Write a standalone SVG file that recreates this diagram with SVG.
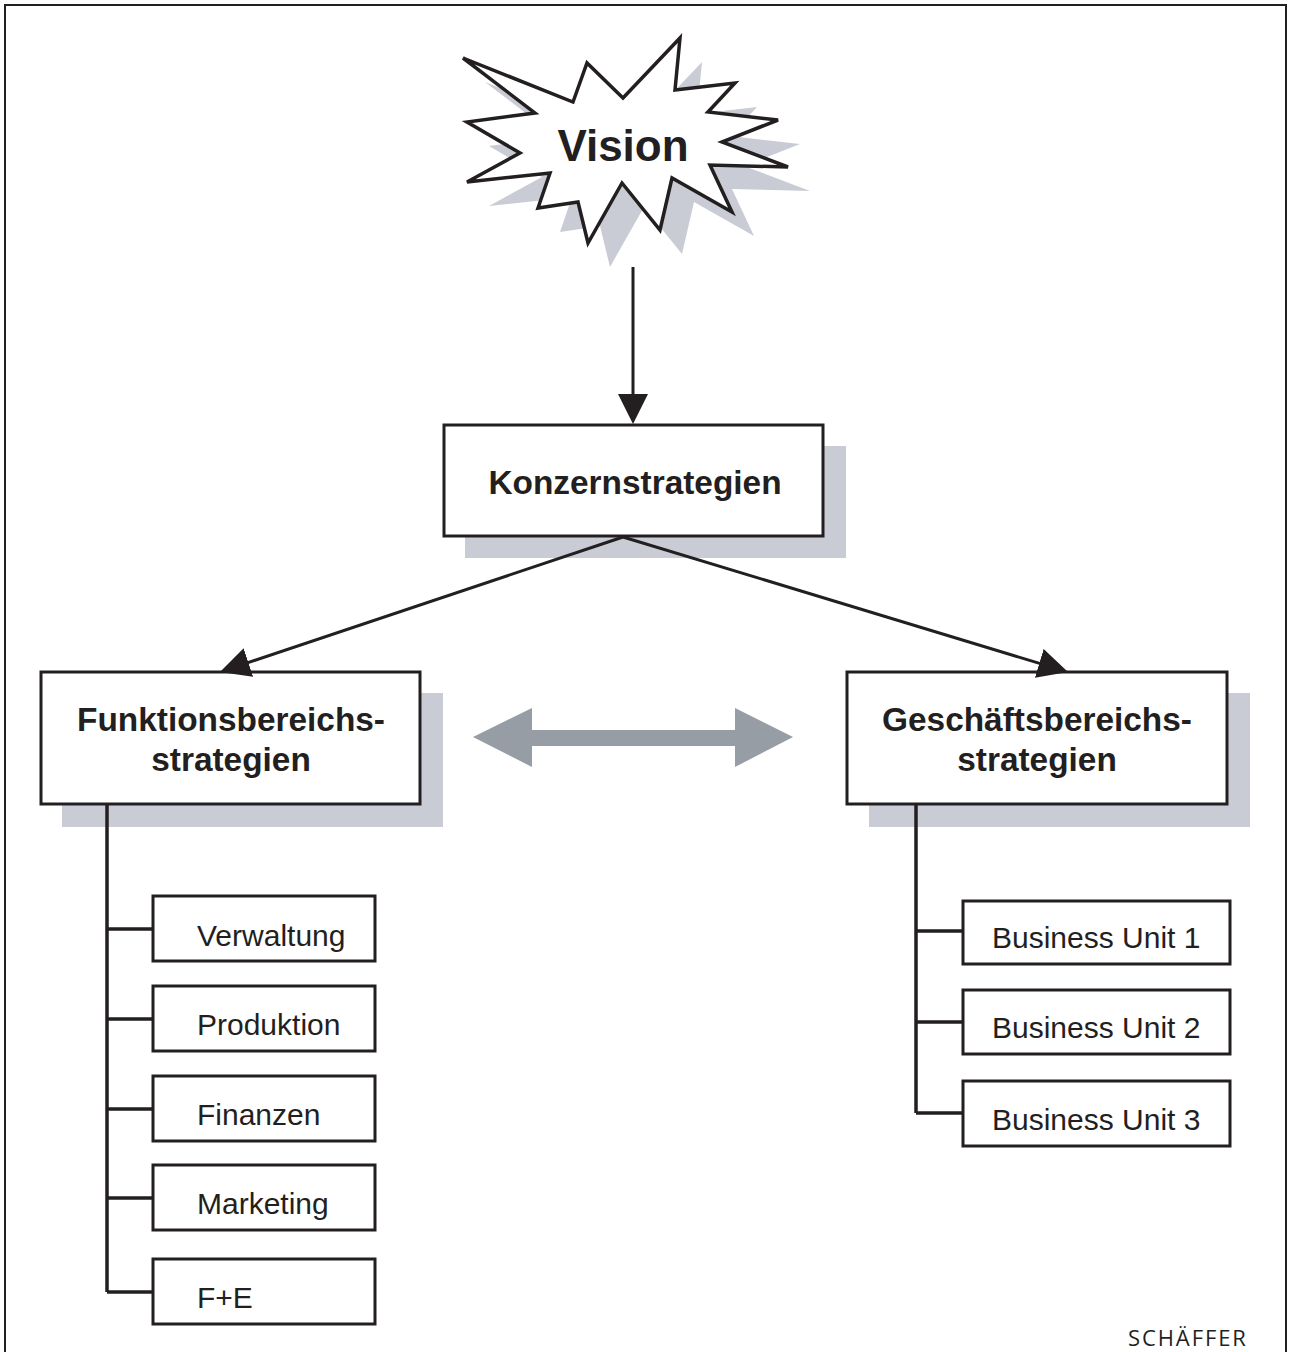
<svg xmlns="http://www.w3.org/2000/svg" width="1289" height="1352" viewBox="0 0 1289 1352">
  <style>
    .frame { fill: none; stroke: #231f20; stroke-width: 2; }
    .shadow { fill: #c9ccd4; stroke: none; }
    .box { fill: #ffffff; stroke: #231f20; stroke-width: 3; }
    .star { fill: #ffffff; stroke: #231f20; stroke-width: 3.5; stroke-linejoin: miter; }
    .link { fill: none; stroke: #231f20; stroke-width: 3; }
    .tree { fill: none; stroke: #231f20; stroke-width: 3.5; }
    .bold { font-family: "Liberation Sans", Arial, sans-serif; font-weight: bold; fill: #231f20; text-anchor: middle; }
    .plain { font-family: "Liberation Sans", Arial, sans-serif; font-size: 30px; fill: #231f20; }
    .publisher { font-family: "Open Sans", "Liberation Sans", sans-serif; font-size: 22px; letter-spacing: 1.9px; fill: #231f20; }
  </style>
  <defs>
    <marker id="head" markerUnits="userSpaceOnUse" markerWidth="32" markerHeight="32" refX="2" refY="15" orient="auto">
      <path d="M0,0 L30,15 L0,30 z" fill="#231f20"/>
    </marker>
    <polygon id="burst" points="463,58 573,102 587,63 623,98 680,38 675,90 735,83 708,112 778,120 722,142 788,167 710,165 732,212 672,178 660,230 622,183 588,243 578,202 538,208 550,173 467,182 520,153 467,122 535,113"/>
  </defs>

  <rect x="0" y="0" width="1289" height="1352" fill="#ffffff"/>
  <path class="frame" d="M5,1352 V5 H1286 V1352"/>

  <!-- Vision burst -->
  <g id="vision">
    <use href="#burst" class="shadow" transform="translate(22,24)"/>
    <use href="#burst" class="star"/>
    <text class="bold" x="623" y="161" font-size="44">Vision</text>
  </g>

  <!-- Corporate strategy -->
  <g id="konzern">
    <rect class="shadow" x="465" y="446" width="381" height="112"/>
    <rect class="box" x="444" y="425" width="379" height="111"/>
    <text class="bold" x="635" y="494" font-size="33.4">Konzernstrategien</text>
  </g>

  <!-- Functional strategies -->
  <g id="funktion">
    <rect class="shadow" x="62" y="693" width="381" height="134"/>
    <rect class="box" x="41" y="672" width="379" height="132"/>
    <text class="bold" x="231" y="731" font-size="33.4">Funktionsbereichs-</text>
    <text class="bold" x="231" y="771" font-size="33.4">strategien</text>
  </g>

  <!-- Business strategies -->
  <g id="geschaeft">
    <rect class="shadow" x="869" y="693" width="381" height="134"/>
    <rect class="box" x="847" y="672" width="380" height="132"/>
    <text class="bold" x="1037" y="731" font-size="33.4">Geschäftsbereichs-</text>
    <text class="bold" x="1037" y="771" font-size="33.4">strategien</text>
  </g>

  <!-- Functional areas -->
  <g id="verwaltung">
    <rect class="box" x="153" y="896" width="222" height="65"/>
    <text class="plain" x="197" y="946">Verwaltung</text>
  </g>
  <g id="produktion">
    <rect class="box" x="153" y="986" width="222" height="65"/>
    <text class="plain" x="197" y="1035">Produktion</text>
  </g>
  <g id="finanzen">
    <rect class="box" x="153" y="1076" width="222" height="65"/>
    <text class="plain" x="197" y="1125">Finanzen</text>
  </g>
  <g id="marketing">
    <rect class="box" x="153" y="1165" width="222" height="65"/>
    <text class="plain" x="197" y="1214">Marketing</text>
  </g>
  <g id="fe">
    <rect class="box" x="153" y="1259" width="222" height="65"/>
    <text class="plain" x="197" y="1308">F+E</text>
  </g>

  <!-- Business units -->
  <g id="bu1">
    <rect class="box" x="963" y="901" width="267" height="63"/>
    <text class="plain" x="992" y="948">Business Unit 1</text>
  </g>
  <g id="bu2">
    <rect class="box" x="963" y="990" width="267" height="64"/>
    <text class="plain" x="992" y="1038">Business Unit 2</text>
  </g>
  <g id="bu3">
    <rect class="box" x="963" y="1081" width="267" height="65"/>
    <text class="plain" x="992" y="1130">Business Unit 3</text>
  </g>

  <!-- Connectors -->
  <g id="connectors">
    <line class="link" x1="633" y1="267" x2="633" y2="396" marker-end="url(#head)"/>
    <line class="link" x1="623" y1="537" x2="246.5" y2="663.1" marker-end="url(#head)"/>
    <line class="link" x1="623" y1="537" x2="1041.2" y2="663.9" marker-end="url(#head)"/>
    <polygon fill="#969da4" points="473,737 532,708 532,730 735,730 735,708 793,737 735,767 735,746 532,746 532,767"/>
    <path class="tree" d="M107,805 V1292 M107,929 H153 M107,1019 H153 M107,1109 H153 M107,1198 H153 M107,1292 H153"/>
    <path class="tree" d="M916,805 V1113 M916,931 H963 M916,1022 H963 M916,1113 H963"/>
  </g>

  <text class="publisher" x="1128" y="1346">SCHÄFFER</text>
</svg>
